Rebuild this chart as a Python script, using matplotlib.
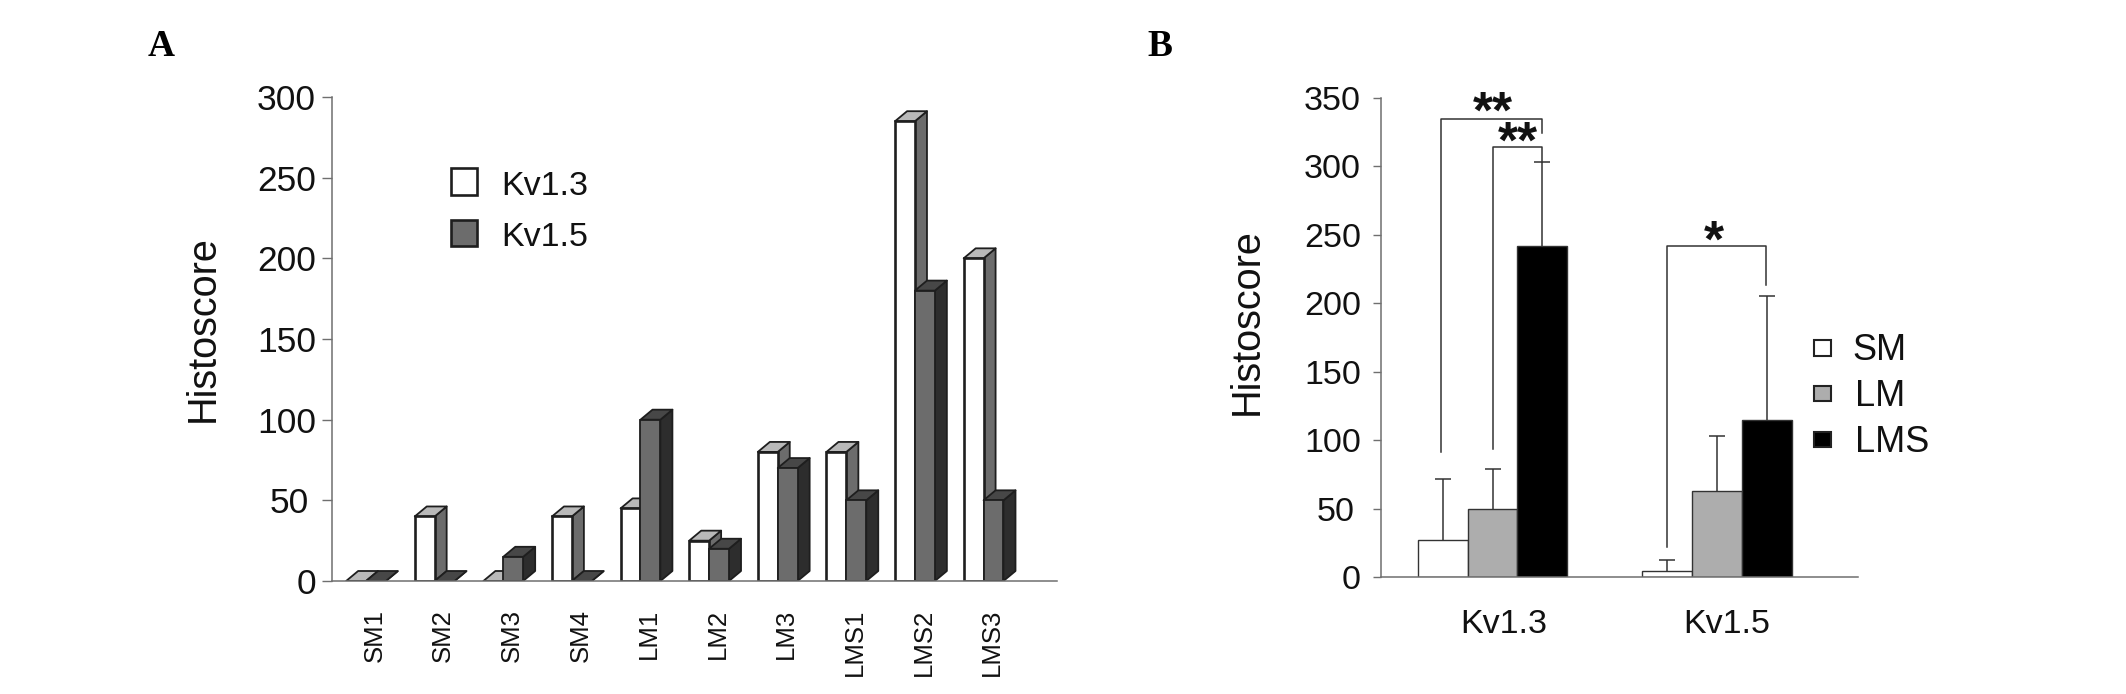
import matplotlib
matplotlib.use("Agg")
import matplotlib.pyplot as plt
from matplotlib.patches import Polygon, Rectangle

plt.rcParams["font.family"] = ["Liberation Sans", "DejaVu Sans"]

W, H = 2126, 694

# ── DATA ──────────────────────────────────────────────────────────────────────
samples = ["SM1", "SM2", "SM3", "SM4", "LM1", "LM2", "LM3", "LMS1", "LMS2", "LMS3"]
kv13_scores = [0, 40, 0, 40, 45, 25, 80, 80, 285, 200]
kv15_scores = [0, 0, 15, 0, 100, 20, 70, 50, 180, 50]
ticks_a = [0, 50, 100, 150, 200, 250, 300]

channels = ["Kv1.3", "Kv1.5"]
groups = ["SM", "LM", "LMS"]
sm_mean = [27, 4.5]
lm_mean = [50, 63]
lms_mean = [242, 115]
sm_err = [45, 8.5]
lm_err = [29, 40]
lms_err = [61, 90]
ticks_b = [0, 50, 100, 150, 200, 250, 300, 350]

# shades
EDGE = "#1e1e1e"
AXIS = "#6f6f6f"
TEXT = "#111111"
WHITE_TOP, WHITE_SIDE = "#b9b9b9", "#6c6c6c"
GREY_FRONT, GREY_TOP, GREY_SIDE = "#6c6c6c", "#474747", "#2d2d2d"
GROUP_COLORS = ["white", "#adadad", "black"]


def px_axes(left, top, right, bottom):
    return fig.add_axes([left / W, 1 - bottom / H, (right - left) / W, (bottom - top) / H])


def px_text(x, y, s, **kw):
    fig.text(x / W, 1 - y / H, s, **kw)


def style_axes(ax, tick_len, pads):
    ax.patch.set_visible(False)
    ax.spines[["top", "right"]].set_visible(False)
    ax.spines["left"].set_color(AXIS)
    ax.spines["left"].set_linewidth(1.1)
    ax.spines["bottom"].set_color(AXIS)
    ax.spines["bottom"].set_linewidth(1.1)
    ax.tick_params(axis="y", length=tick_len, width=1.0, color=AXIS, labelcolor=TEXT)
    ax.tick_params(axis="x", length=0, labelcolor=TEXT)
    for tick, pad in zip(ax.yaxis.get_major_ticks(), pads):
        tick.set_pad(pad)


def bar3d(ax, x0, x1, value, front, top, side, dx, dy):
    ax.add_patch(Polygon([(x1, 0), (x1 + dx, dy), (x1 + dx, value + dy), (x1, value)],
                         facecolor=side, edgecolor=EDGE, linewidth=1.3, joinstyle="round"))
    ax.add_patch(Polygon([(x0, value), (x0 + dx, value + dy), (x1 + dx, value + dy), (x1, value)],
                         facecolor=top, edgecolor=EDGE, linewidth=1.3, joinstyle="round"))
    if value > 0:
        ax.add_patch(Rectangle((x0, 0), x1 - x0, value, facecolor=front, edgecolor=EDGE,
                               linewidth=1.9 if front == "white" else 1.3))


fig = plt.figure(figsize=(W / 100, H / 100), dpi=100, facecolor="white")

# ── PANEL A: 3D-LOOK BARS PER SAMPLE ──────────────────────────────────────────
ax = px_axes(332, 97, 1057, 581)
ax.set_xlim(-0.496, 10.07)
ax.set_ylim(0, 300)
bar_w = 0.29
for i, (v13, v15) in enumerate(zip(kv13_scores, kv15_scores)):
    bar3d(ax, i - bar_w, i, v13, "white", WHITE_TOP, WHITE_SIDE, 0.175, 6.2)
    bar3d(ax, i, i + bar_w, v15, GREY_FRONT, GREY_TOP, GREY_SIDE, 0.175, 6.2)
ax.set_yticks(ticks_a)
ax.set_yticklabels(ticks_a, fontsize=25.5)
ax.set_xticks([i + 0.125 for i in range(len(samples))])
ax.set_xticklabels(samples, rotation=90, fontsize=18.5)
style_axes(ax, 7.2, [4.3, 9.7, 4.3, 4.3, 4.3, 4.3, 4.3])
ax.tick_params(axis="x", pad=20)

px_text(203, 329, "Histoscore", rotation=90, fontsize=28.5, color=TEXT, ha="center", va="center")
px_text(148, 56, "A", family="Liberation Serif", fontweight="bold", fontsize=27, color="black")
px_text(1147, 56, "B", family="Liberation Serif", fontweight="bold", fontsize=27, color="black")

fig.add_artist(Rectangle((451 / W, 1 - 195 / H), 26 / W, 27 / H, transform=fig.transFigure,
                         facecolor="white", edgecolor=EDGE, linewidth=1.9))
fig.add_artist(Rectangle((451 / W, 1 - 245.5 / H), 26 / W, 26 / H, transform=fig.transFigure,
                         facecolor=GREY_FRONT, edgecolor=EDGE, linewidth=1.9))
px_text(501, 187, "Kv1.3", fontsize=24.5, color=TEXT, va="center")
px_text(501, 237, "Kv1.5", fontsize=24.5, color=TEXT, va="center")

# ── PANEL B: GROUP MEANS WITH ERROR BARS ──────────────────────────────────────
ax = px_axes(1381, 97.7, 1858, 577.4)
ax.set_xlim(-0.4967, 1.628)
ax.set_ylim(0, 350)
width = 0.222
series = [(sm_mean, sm_err), (lm_mean, lm_err), (lms_mean, lms_err)]
for j, (means, errs) in enumerate(series):
    xs = [k + (j - 1) * width for k in range(len(channels))]
    ax.bar(xs, means, width=width, color=GROUP_COLORS[j],
           edgecolor="#333333", linewidth=1.0, zorder=2)
    _, caps, _ = ax.errorbar(xs, means, yerr=[[0, 0], errs], fmt="none", ecolor="#333333",
                             elinewidth=1.1, capsize=5.5, capthick=1.1, zorder=1)
    caps[0].set_visible(False)  # upper whisker only

ax.set_yticks(ticks_b)
ax.set_yticklabels(ticks_b, fontsize=24.5)
ax.set_xticks([0.05, 1.045])
ax.set_xticklabels(channels, fontsize=24.5)
style_axes(ax, 5.8, [8.6, 13, 8.6, 8.6, 8.6, 8.6, 8.6, 8.6])
ax.tick_params(axis="x", pad=23)

# significance brackets
brackets = [(-0.23, 91.5, 0.222, 324, 334.5, "**", 0.0, 334),
            (0.0, 93.7, 0.222, 303, 314, "**", 0.115, 312),
            (0.778, 22, 1.22, 213, 241.5, "*", 0.985, 240)]
for x0, y0, x1, y1, top, stars, sx, sy in brackets:
    ax.plot([x0, x0, x1, x1], [y0, top, top, y1], color="#333333", linewidth=1.1,
            clip_on=False, zorder=3)
    ax.text(sx, sy - 6, stars, fontsize=37, fontweight="bold", color=TEXT,
            ha="center", va="baseline")

px_text(1247, 322, "Histoscore", rotation=90, fontsize=28.5, color=TEXT, ha="center", va="center")

legend_y = [(340, 356), (385.5, 401), (432, 447)]
legend_x = [1852, 1855.5, 1855.5]
for name, color, (y0, y1), tx in zip(groups, GROUP_COLORS, legend_y, legend_x):
    fig.add_artist(Rectangle((1814 / W, 1 - y1 / H), 16.5 / W, (y1 - y0) / H,
                             transform=fig.transFigure, facecolor=color,
                             edgecolor="#222222", linewidth=1.5))
    px_text(tx, (y0 + y1) / 2 + 3, name, fontsize=26, color=TEXT, va="center")

fig.savefig("out.png", dpi=100)
